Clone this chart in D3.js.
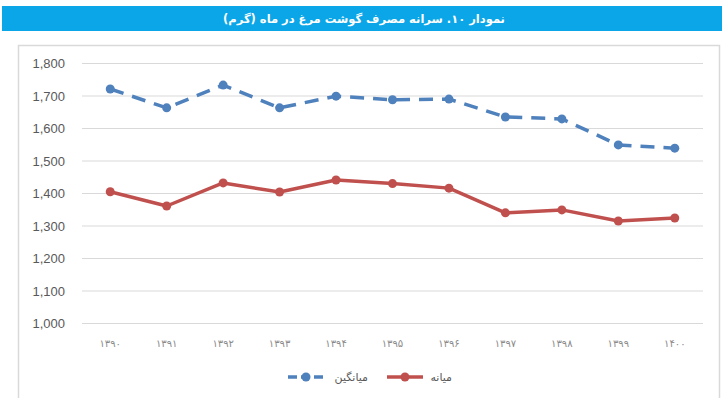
<!DOCTYPE html>
<html>
<head>
<meta charset="utf-8">
<script src="https://cdn.jsdelivr.net/npm/d3@7"></script>
<style>
	body { margin: 0; background: #fff; }
	svg { display: block; }
</style>
</head>
<body>
<svg id="chart" width="724" height="398"></svg>
<script>
var title = "نمودار ۱۰. سرانه مصرف گوشت مرغ در ماه (گرم)";
var years = ["۱۳۹۰", "۱۳۹۱", "۱۳۹۲", "۱۳۹۳", "۱۳۹۴", "۱۳۹۵", "۱۳۹۶", "۱۳۹۷", "۱۳۹۸", "۱۳۹۹", "۱۴۰۰"];
var meanVals = [1720, 1662, 1732, 1662, 1698, 1687, 1689, 1634, 1628, 1548, 1538];
var medianVals = [1404, 1360, 1431, 1403, 1440, 1429, 1415, 1339, 1348, 1314, 1323];
var yTicks = [1000, 1100, 1200, 1300, 1400, 1500, 1600, 1700, 1800];
var seriesNames = ["میانگین", "میانه"];

var svg = d3.select("#chart");
var blue = "#4f81bd", red = "#c0504d";

// header bar
svg.append("rect")
	.attr("x", 2).attr("y", 6).attr("width", 720).attr("height", 25)
	.attr("fill", "#0aa6e8");
svg.append("text")
	.attr("x", 364).attr("y", 23)
	.attr("text-anchor", "middle")
	.attr("direction", "rtl")
	.attr("font-family", "DejaVu Sans")
	.attr("font-weight", "bold")
	.attr("font-size", 11.5)
	.attr("fill", "#fff")
	.text(title);

// chart frame
svg.append("rect")
	.attr("x", 18.5).attr("y", 45.5).attr("width", 701).attr("height", 360)
	.attr("fill", "none").attr("stroke", "#d9d9d9").attr("stroke-width", 1.5);

var x = d3.scaleBand().domain(years).range([82, 703]);
var y = d3.scaleLinear().domain([1000, 1800]).range([323, 63]);

// gridlines
svg.append("g").selectAll("line").data(yTicks).join("line")
	.attr("x1", 82).attr("x2", 703)
	.attr("y1", function(d){ return y(d) + 0.5; })
	.attr("y2", function(d){ return y(d) + 0.5; })
	.attr("stroke", "#d9d9d9").attr("stroke-width", 1);

// y labels
svg.append("g").selectAll("text").data(yTicks).join("text")
	.attr("x", 65)
	.attr("y", function(d){ return y(d) + 5; })
	.attr("text-anchor", "end")
	.attr("font-family", "Liberation Sans, Arial")
	.attr("font-size", 13)
	.attr("fill", "#595959")
	.text(d3.format(","));

// x labels
svg.append("g").selectAll("text").data(years).join("text")
	.attr("x", function(d){ return x(d) + x.bandwidth() / 2; })
	.attr("y", 347)
	.attr("text-anchor", "middle")
	.attr("font-family", "DejaVu Sans")
	.attr("font-size", 10)
	.attr("letter-spacing", 1)
	.attr("fill", "#8a8a8a")
	.text(function(d){ return d; });

var line = d3.line()
	.x(function(d, i){ return x(years[i]) + x.bandwidth() / 2; })
	.y(function(d){ return y(d); });

function drawSeries(vals, color, dash) {
	svg.append("path")
		.datum(vals)
		.attr("d", line)
		.attr("fill", "none")
		.attr("stroke", color)
		.attr("stroke-width", 3.5)
		.attr("stroke-linejoin", "round")
		.attr("stroke-dasharray", dash);
	svg.append("g").selectAll("circle").data(vals).join("circle")
		.attr("cx", function(d, i){ return x(years[i]) + x.bandwidth() / 2; })
		.attr("cy", function(d){ return y(d); })
		.attr("r", 4.5)
		.attr("fill", color);
}
drawSeries(meanVals, blue, "14,9");
drawSeries(medianVals, red, null);

// legend
var legend = [
	{name: seriesNames[0], color: blue, dash: "9,4", x0: 288, tx: 368},
	{name: seriesNames[1], color: red, dash: null, x0: 387, tx: 452}
];
var lg = svg.append("g").selectAll("g").data(legend).join("g");
lg.append("line")
	.attr("x1", function(d){ return d.x0; })
	.attr("x2", function(d){ return d.x0 + 36; })
	.attr("y1", 377).attr("y2", 377)
	.attr("stroke", function(d){ return d.color; })
	.attr("stroke-width", 3.5)
	.attr("stroke-dasharray", function(d){ return d.dash; });
lg.append("circle")
	.attr("cx", function(d){ return d.x0 + 18; })
	.attr("cy", 377).attr("r", 4.5)
	.attr("fill", function(d){ return d.color; });
lg.append("text")
	.attr("x", function(d){ return d.tx; })
	.attr("y", 381)
	.attr("text-anchor", "end")
	.attr("font-family", "DejaVu Sans")
	.attr("font-size", 11)
	.attr("fill", "#595959")
	.text(function(d){ return d.name; });
</script>
</body>
</html>
